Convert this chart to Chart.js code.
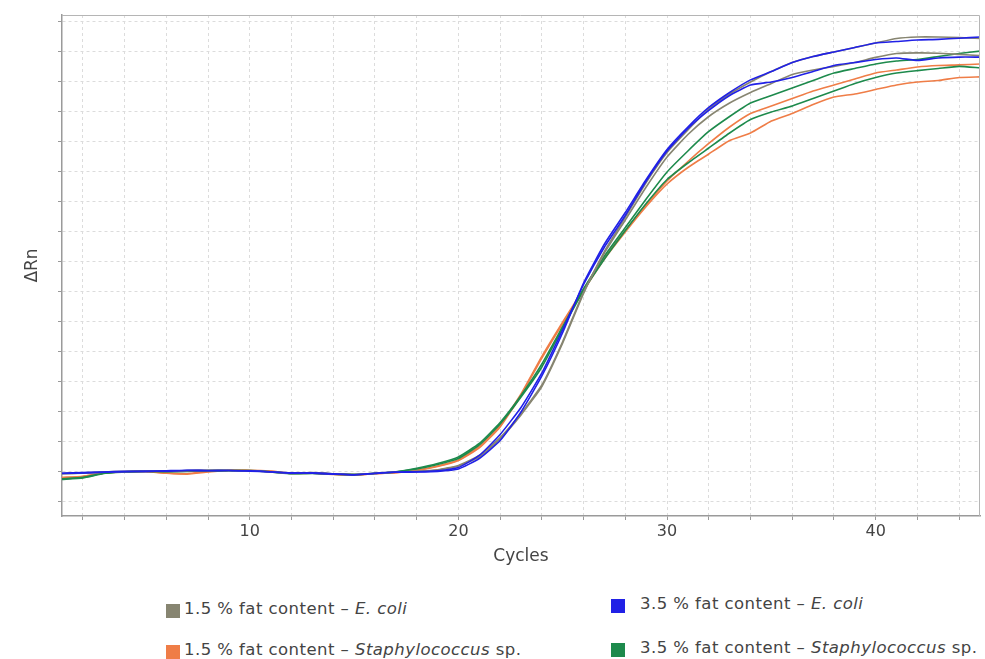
<!DOCTYPE html>
<html>
<head>
<meta charset="utf-8">
<script src="https://cdn.jsdelivr.net/npm/chart.js@4/dist/chart.umd.min.js"></script>
<style>
  html, body { margin:0; padding:0; background:#fff; }
  #wrap { position:relative; width:985px; height:659px; overflow:hidden; }
  #box { position:absolute; left:0; top:0; width:985px; height:575px; }
  .lg { position:absolute; font-family:"DejaVu Sans", sans-serif; font-size:16.5px; letter-spacing:0.45px; color:#444; white-space:nowrap; line-height:17px; }
  .lg span.sw { display:inline-block; width:14px; height:14px; vertical-align:-2px; }
</style>
</head>
<body>
<div id="wrap">
  <div id="box"><canvas id="chartRn"></canvas></div>
  <div id="legend"></div>
</div>
<script>
// ---- datos ----
const cycles = [1,2,3,4,5,6,7,8,9,10,11,12,13,14,15,16,17,18,19,20,21,22,23,24,25,26,27,28,29,30,31,32,33,34,35,36,37,38,39,40,41,42,43,44,45];
const xTicks = [2,4,6,8,10,12,14,16,18,20,22,24,26,28,30,32,34,36,38,40,42,44];
const xLabels = [10,20,30,40];
const yTicks = [-1,0,1,2,3,4,5,6,7,8,9,10,11,12,13,14,15];

const groupLabels = ["1.5 % fat content – E. coli", "3.5 % fat content – E. coli", "1.5 % fat content – Staphylococcus sp.", "3.5 % fat content – Staphylococcus sp."];
const groupColors = ["#878571", "#2121e6", "#ef7d47", "#1d8a4c"];

// 3.5 % E. coli (dos réplicas)
const blueA = [-0.05,-0.03,-0.01,0.01,0.02,0.04,0.06,0.05,0.05,0.04,0.0,-0.04,-0.03,-0.06,-0.09,-0.05,-0.01,
  0.0,0.02,0.1,0.45,1.05,2.0,3.2,4.65,6.3,7.6,8.65,9.75,10.75,11.5,12.15,12.65,13.07,13.35,13.65,13.85,14.0,14.15,14.3,14.35,14.4,14.42,14.46,14.5];
const blueB = [-0.04,-0.02,0.0,0.02,0.02,0.03,0.05,0.04,0.05,0.03,0.01,-0.03,-0.04,-0.07,-0.1,-0.04,0.0,
  0.01,0.04,0.15,0.55,1.25,2.15,3.3,4.75,6.25,7.5,8.55,9.7,10.7,11.45,12.05,12.55,12.9,13.0,13.15,13.35,13.55,13.65,13.75,13.8,13.72,13.8,13.83,13.83];
// 1.5 % E. coli
const grayA = [-0.06,-0.03,0.0,0.02,0.03,0.03,0.04,0.05,0.06,0.05,0.01,-0.04,-0.03,-0.07,-0.09,-0.05,-0.01,
  0.02,0.06,0.2,0.5,1.1,1.9,2.85,4.3,5.95,7.35,8.5,9.65,10.65,11.4,12.1,12.6,13.0,13.35,13.65,13.85,14.0,14.15,14.3,14.45,14.5,14.5,14.48,14.45];
const grayB = [-0.05,-0.04,-0.01,0.01,0.03,0.02,0.05,0.06,0.05,0.04,0.0,-0.05,-0.02,-0.06,-0.08,-0.04,0.0,
  0.02,0.07,0.22,0.55,1.15,1.95,2.9,4.35,6.0,7.3,8.4,9.5,10.5,11.25,11.85,12.3,12.65,12.95,13.25,13.4,13.52,13.65,13.82,13.95,13.97,13.96,13.92,13.88];
// 1.5 % Staphylococcus
const orangeA = [-0.18,-0.14,-0.03,0.01,0.02,-0.03,-0.06,0.02,0.06,0.05,0.02,-0.05,-0.04,-0.08,-0.1,-0.06,-0.02,
  0.06,0.2,0.4,0.85,1.55,2.6,3.85,5.0,6.1,7.15,8.05,8.9,9.7,10.35,10.95,11.5,11.95,12.2,12.45,12.7,12.9,13.1,13.3,13.4,13.5,13.55,13.57,13.6];
const orangeB = [-0.2,-0.15,-0.04,0.0,0.01,-0.04,-0.07,0.0,0.05,0.06,0.03,-0.04,-0.03,-0.07,-0.11,-0.05,-0.02,
  0.05,0.18,0.38,0.8,1.5,2.55,3.8,4.95,6.05,7.1,8.0,8.85,9.6,10.15,10.6,11.05,11.3,11.7,11.95,12.25,12.5,12.6,12.75,12.9,13.0,13.05,13.15,13.17];
// 3.5 % Staphylococcus
const greenA = [-0.25,-0.2,-0.05,0.01,0.02,0.02,0.03,0.04,0.05,0.04,0.0,-0.06,-0.04,-0.07,-0.08,-0.04,0.0,
  0.12,0.28,0.5,0.95,1.65,2.55,3.6,4.85,6.1,7.2,8.15,9.1,10.0,10.7,11.35,11.85,12.3,12.55,12.8,13.05,13.3,13.45,13.6,13.7,13.75,13.85,13.95,14.03];
const greenB = [-0.23,-0.18,-0.04,0.0,0.03,0.01,0.02,0.05,0.04,0.05,0.01,-0.05,-0.05,-0.06,-0.09,-0.05,0.01,
  0.1,0.25,0.45,0.9,1.6,2.5,3.5,4.8,6.05,7.1,8.05,8.95,9.75,10.3,10.8,11.3,11.75,12.0,12.2,12.45,12.7,12.95,13.15,13.3,13.38,13.45,13.52,13.47];

// orden: el primero se dibuja encima
const series = [
  { data: blueA, group: 1 }, { data: blueB, group: 1 },
  { data: grayA, group: 0 }, { data: grayB, group: 0 },
  { data: greenA, group: 3 }, { data: greenB, group: 3 },
  { data: orangeA, group: 2 }, { data: orangeB, group: 2 }
];

const FONT = "DejaVu Sans, sans-serif";
const TXT = "#444";

// marco superior/derecho del área
const frame = {
  id: "frame",
  afterDraw(chart) {
    const { ctx, chartArea: a } = chart;
    ctx.save();
    ctx.strokeStyle = "#b5b5b5";
    ctx.lineWidth = 1;
    ctx.beginPath();
    ctx.moveTo(a.left, a.top + 0.5);
    ctx.lineTo(a.right - 0.5, a.top + 0.5);
    ctx.lineTo(a.right - 0.5, a.bottom);
    ctx.stroke();
    ctx.restore();
  }
};

new Chart(document.getElementById("chartRn").getContext("2d"), {
  type: "line",
  data: {
    datasets: series.map(s => ({
      label: groupLabels[s.group],
      data: cycles.map((c, i) => ({ x: c, y: s.data[i] })),
      borderColor: groupColors[s.group],
      backgroundColor: groupColors[s.group],
      borderWidth: 1.6,
      pointRadius: 0,
      tension: 0.15,
      fill: false
    }))
  },
  options: {
    responsive: true,
    maintainAspectRatio: false,
    animation: false,
    layout: { padding: { top: 15, right: 5, left: 0, bottom: 0 } },
    plugins: { legend: { display: false }, tooltip: { enabled: false } },
    scales: {
      x: {
        type: "linear",
        min: 1, max: 45,
        afterBuildTicks: s => { s.ticks = xTicks.map(v => ({ value: v })); },
        afterFit: s => { s.height = 59; },
        ticks: {
          autoSkip: false, maxRotation: 0, padding: 2,
          color: TXT, font: { family: FONT, size: 16 },
          callback: v => xLabels.includes(v) ? String(v) : ""
        },
        grid: { color: "#dcdcdc", tickLength: 4, tickColor: "#9a9a9a", tickBorderDash: [] },
        border: { color: "#9a9a9a", width: 1.5, dash: [3, 3] },
        title: { display: true, text: "Cycles", color: TXT, font: { family: FONT, size: 17 }, padding: { top: 0, bottom: 8 } }
      },
      y: {
        min: -1.467, max: 15.233,
        afterBuildTicks: s => { s.ticks = yTicks.map(v => ({ value: v })); },
        afterFit: s => { s.width = 62; },
        ticks: { display: false },
        grid: { color: "#dcdcdc", tickLength: 4, tickColor: "#9a9a9a", tickBorderDash: [] },
        border: { color: "#9a9a9a", width: 1.5, dash: [3, 3] },
        title: { display: true, text: "ΔRn", color: TXT, font: { family: FONT, size: 17 }, padding: { top: 22, bottom: 0 } }
      }
    }
  },
  plugins: [frame]
});

// leyenda en dos columnas
const legendPos = [
  { sw: [166, 602], tx: [184, 600] },
  { sw: [611, 597], tx: [640, 595] },
  { sw: [166, 643], tx: [184, 641] },
  { sw: [611, 641], tx: [640, 639] }
];
const lg = document.getElementById("legend");
groupLabels.forEach((lab, i) => {
  const p = legendPos[i];
  const sw = document.createElement("div");
  sw.className = "lg";
  sw.style.left = p.sw[0] + "px"; sw.style.top = p.sw[1] + "px";
  sw.innerHTML = '<span class="sw" style="background:' + groupColors[i] + '"></span>';
  lg.appendChild(sw);
  const tx = document.createElement("div");
  tx.className = "lg";
  tx.style.left = p.tx[0] + "px"; tx.style.top = p.tx[1] + "px";
  tx.innerHTML = lab.replace("E. coli", "<i>E. coli</i>").replace("Staphylococcus", "<i>Staphylococcus</i>");
  lg.appendChild(tx);
});
</script>
</body>
</html>
